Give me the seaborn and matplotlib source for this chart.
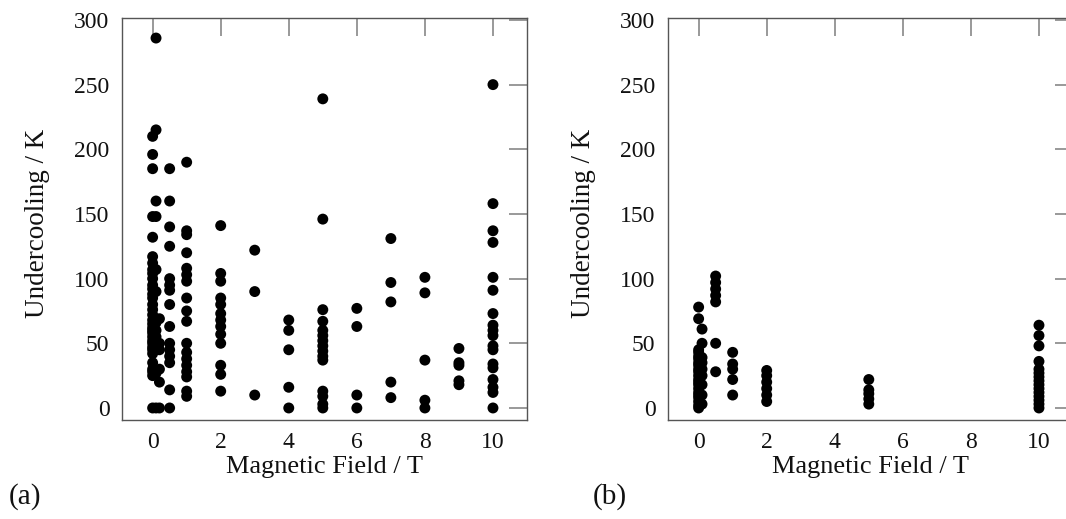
import matplotlib
matplotlib.use("Agg")
import matplotlib.pyplot as plt
import seaborn as sns
import pandas as pd

# ---- data ----
# Panel (a): magnetic field (T) -> list of undercooling values (K)
a_field_0 = [0, 25, 28, 30, 35, 42, 45, 47, 50, 52, 55, 58, 60, 62, 65, 68, 72, 76, 80, 85,
             88, 92, 95, 100, 104, 107, 112, 117, 132, 148, 185, 196, 210]
a_field_01 = [0, 27, 48, 55, 60, 66, 90, 107, 148, 160, 215, 286]
a_field_02 = [0, 20, 30, 45, 50, 69]
a_field_05 = [0, 14, 35, 40, 45, 50, 63, 80, 91, 95, 100, 125, 140, 160, 185]
a_field_1 = [9, 13, 24, 28, 33, 38, 43, 50, 67, 75, 85, 98, 103, 108, 120, 134, 137, 190]
a_field_2 = [13, 26, 33, 50, 57, 63, 68, 73, 80, 85, 98, 104, 141]
a_field_3 = [10, 90, 122]
a_field_4 = [0, 16, 45, 60, 68]
a_field_5 = [0, 3, 9, 13, 37, 40, 44, 48, 52, 56, 60, 67, 76, 146, 239]
a_field_6 = [0, 10, 63, 77]
a_field_7 = [8, 20, 82, 97, 131]
a_field_8 = [0, 6, 37, 89, 101]
a_field_9 = [18, 21, 33, 35, 46]
a_field_10 = [0, 12, 16, 22, 31, 34, 45, 48, 56, 60, 64, 73, 91, 101, 128, 137, 158, 250]

# Panel (b)
b_field_0 = [0, 2, 5, 8, 10, 12, 15, 18, 20, 22, 25, 28, 30, 33, 35, 38, 40, 43, 45, 69, 78]
b_field_01 = [3, 10, 18, 25, 30, 35, 39, 50, 61]
b_field_05 = [28, 50, 82, 87, 92, 97, 102]
b_field_1 = [10, 22, 30, 34, 43]
b_field_2 = [5, 10, 15, 20, 25, 29]
b_field_5 = [3, 7, 11, 14, 22]
b_field_10 = [0, 3, 6, 9, 12, 15, 18, 21, 24, 27, 30, 36, 48, 56, 64]

a_groups = {0.0: a_field_0, 0.1: a_field_01, 0.2: a_field_02, 0.5: a_field_05, 1.0: a_field_1,
            2.0: a_field_2, 3.0: a_field_3, 4.0: a_field_4, 5.0: a_field_5, 6.0: a_field_6,
            7.0: a_field_7, 8.0: a_field_8, 9.0: a_field_9, 10.0: a_field_10}
b_groups = {0.0: b_field_0, 0.1: b_field_01, 0.5: b_field_05, 1.0: b_field_1,
            2.0: b_field_2, 5.0: b_field_5, 10.0: b_field_10}

x_ticks = [0, 2, 4, 6, 8, 10]
y_ticks = [0, 50, 100, 150, 200, 250, 300]


def to_frame(groups):
    rows = [(f, v) for f, vals in groups.items() for v in vals]
    return pd.DataFrame(rows, columns=["field", "undercooling"])


df_a = to_frame(a_groups)
df_b = to_frame(b_groups)

sns.set_style("white")
plt.rcParams["font.family"] = ["Liberation Serif", "DejaVu Serif"]

fig = plt.figure(figsize=(10.66, 5.19), dpi=100)
W, H = 1066, 519
ax_w = 405 / W
ax_h = 402 / H
bottom = 1 - 420 / H
ax_a = fig.add_axes([122 / W, bottom, ax_w, ax_h])
ax_b = fig.add_axes([668 / W, bottom, ax_w, ax_h])

for ax, df, tag, tagx in [(ax_a, df_a, "(a)", 25 / W), (ax_b, df_b, "(b)", 610 / W)]:
    sns.scatterplot(data=df, x="field", y="undercooling", ax=ax, color="black",
                    s=62, edgecolor="none", linewidth=0, legend=False, clip_on=False)
    ax.set_xlim(-0.9, 11.0)
    ax.set_ylim(-9.3, 301.5)
    ax.set_xticks(x_ticks)
    ax.set_yticks(y_ticks)
    ax.tick_params(direction="in", length=13, width=1.2, color="#888888",
                   top=True, right=True, labelsize=17, pad=9, labelcolor="#111111")
    for sp in ax.spines.values():
        sp.set_visible(True)
        sp.set_color("#555555")
        sp.set_linewidth(1.0)
    ax.set_xlabel("Magnetic Field / T", fontsize=19, color="#111111")
    ax.set_ylabel("Undercooling / K", fontsize=19.5, color="#111111")
    ax.xaxis.set_label_coords(0.5, -0.09)
    ax.yaxis.set_label_coords(-0.178, 0.49)
    fig.text(tagx, 1 - 497 / H, tag, fontsize=21, ha="center", va="center", color="#111111")

fig.savefig("out.png", dpi=100)
